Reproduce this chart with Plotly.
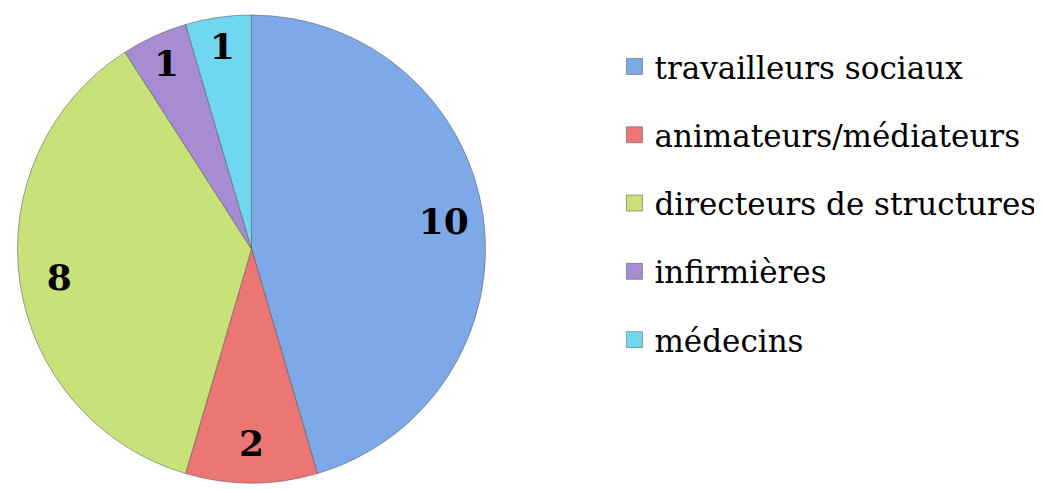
import plotly.graph_objects as go

categories = ["travailleurs sociaux", "animateurs/médiateurs", "directeurs de structures", "infirmières", "médecins"]
values = [10, 2, 8, 1, 1]
colors = ["#7EA9E9", "#EC7673", "#C8E178", "#A88CD2", "#6FD7EE"]

FONT = "DejaVu Serif"
DOMAIN = dict(x=[0.0048, 0.4626], y=[0.0286, 0.9857])

fig = go.Figure()
# main pie (slices)
fig.add_trace(go.Pie(
    labels=categories,
    values=values,
    sort=False,
    direction="clockwise",
    rotation=0,
    marker=dict(colors=colors, line=dict(color="rgba(90,90,90,0.55)", width=1)),
    textinfo="none",
    showlegend=False,
    domain=DOMAIN,
    hoverinfo="label+value",
))
# transparent ring carrying the value labels near the outer edge
fig.add_trace(go.Pie(
    labels=categories,
    values=values,
    sort=False,
    direction="clockwise",
    rotation=0,
    hole=0.66,
    marker=dict(colors=["rgba(0,0,0,0)"] * len(values), line=dict(width=0)),
    textinfo="value",
    textposition="inside",
    insidetextorientation="horizontal",
    textfont=dict(family=FONT, size=36, color="black", weight="bold"),
    showlegend=False,
    domain=DOMAIN,
    hoverinfo="skip",
))

for cat, col in zip(categories, colors):
    fig.add_trace(go.Scatter(
        x=[None], y=[None], mode="markers", name=cat, legendgroup=cat,
        marker=dict(symbol="square", size=16, color=col,
                    line=dict(color="rgba(80,80,80,0.5)", width=1)),
    ))

fig.update_layout(
    width=1042, height=489,
    margin=dict(l=0, r=0, t=0, b=0),
    paper_bgcolor="white", plot_bgcolor="white",
    xaxis=dict(visible=False), yaxis=dict(visible=False),
    legend=dict(
        x=0.582, y=0.935, xanchor="left", yanchor="top",
        font=dict(family=FONT, size=31, color="black"),
        tracegroupgap=25, itemwidth=30, bgcolor="rgba(0,0,0,0)",
    ),
    font=dict(family=FONT),
)

fig.write_html("out.html")
